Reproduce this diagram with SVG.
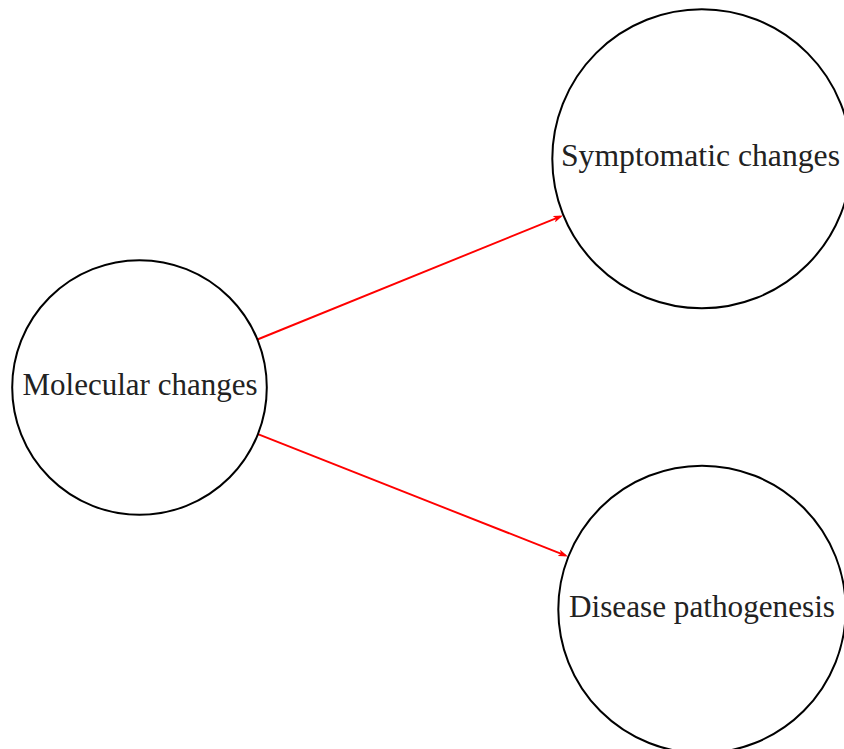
<svg xmlns="http://www.w3.org/2000/svg" width="844" height="749" viewBox="0 0 844 749">
<style>
.node circle{fill:none;stroke:#000;stroke-width:2}
.node text{font-family:"Liberation Serif","DejaVu Serif",serif;font-size:31px;fill:#222;text-anchor:middle}
.edge{stroke:#ff0000;stroke-width:1.9;fill:none;marker-end:url(#arr)}
</style>
<defs>
<marker id="arr" viewBox="0 0 10 7" markerWidth="10" markerHeight="7" refX="7" refY="3.5" orient="auto" markerUnits="userSpaceOnUse">
<path d="M0,0 L10,3.5 L0,7 L2.5,3.5 z" fill="#ff0000"/>
</marker>
</defs>
<rect width="844" height="749" fill="#fff"/>
<g id="connectors">
<line class="edge" x1="257.4" y1="339.5" x2="560.2" y2="216.6"/>
<line class="edge" x1="257.9" y1="434.2" x2="565.2" y2="555.4"/>
</g>
<g id="molecular" class="node">
<circle cx="139.5" cy="387.5" r="127.3"/>
<text x="140" y="395" textLength="235" lengthAdjust="spacingAndGlyphs">Molecular changes</text>
</g>
<g id="symptomatic" class="node">
<circle cx="701.8" cy="158.8" r="149.5"/>
<text x="700.5" y="166" textLength="279" lengthAdjust="spacingAndGlyphs">Symptomatic changes</text>
</g>
<g id="disease" class="node">
<circle cx="702" cy="609.4" r="143.7"/>
<text x="702" y="617" textLength="266" lengthAdjust="spacingAndGlyphs">Disease pathogenesis</text>
</g>
</svg>
